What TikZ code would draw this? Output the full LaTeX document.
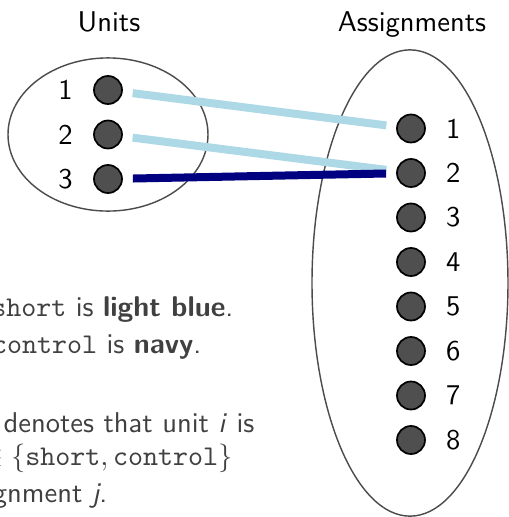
\documentclass[tikz,border=0pt]{standalone}
\usepackage{amsmath}
\usepackage{amssymb}
\usepackage{tikz}
\renewcommand{\familydefault}{\sfdefault}
\definecolor{lightblue}{RGB}{173,216,230}
\definecolor{navy}{RGB}{0,0,128}

\begin{document}
\begin{tikzpicture}[x=0.35pt, y=-0.35pt,
    dot/.style={circle, draw=black, semithick, fill=black!69, minimum size=9.8pt, inner sep=0pt},
    group/.style={draw=black!70, line width=0.5pt},
    title/.style={anchor=base, inner sep=0pt},
    note/.style={anchor=base east, inner sep=0pt, text=black!75},
    shortedge/.style={line width=2.8pt, lightblue, shorten <=3.5pt, shorten >=3.5pt},
    controledge/.style={line width=2.8pt, navy, shorten <=3.5pt, shorten >=3.5pt}]
    \useasboundingbox (0,0) rectangle (509,517);
    \clip (0,0) rectangle (509,517);

    \node[title] (unitstitle) at (109,31) {Units};
    \node[title] (assigntitle) at (412,31) {Assignments};

    \draw[group] (108,134.5) ellipse (35pt and 26.8pt);
    \draw[group] (410,283) ellipse (34.3pt and 81.6pt);

    \foreach \i in {1,...,3} {
        \node[dot, label={[label distance=3.6pt]left:\i}] (u\i) at (108, {90+44.5*(\i-1)}) {};
    }
    \foreach \j in {1,...,8} {
        \node[dot, label={[label distance=3.6pt]right:\j}] (a\j) at (411, {128.5+44.5*(\j-1)}) {};
    }

    \draw[shortedge] (u1) -- (a1);
    \draw[shortedge] (u2) -- (a2);
    \draw[controledge] (u3) -- (a2);

    \node[note] (line1) at (234,316) {\texttt{short} is \textbf{light blue}.};
    \node[note] (line2) at (202,353) {\texttt{control} is \textbf{navy}.};
    \node[note] (line3) at (255,432) {denotes that unit \textsl{i} is};
    \node[note] (line4) at (233,465) {$\in\{\mathtt{short},\mathtt{control}\}$};
    \node[note] (line5) at (108,502) {gnment \textsl{j}.};
\end{tikzpicture}
\end{document}
